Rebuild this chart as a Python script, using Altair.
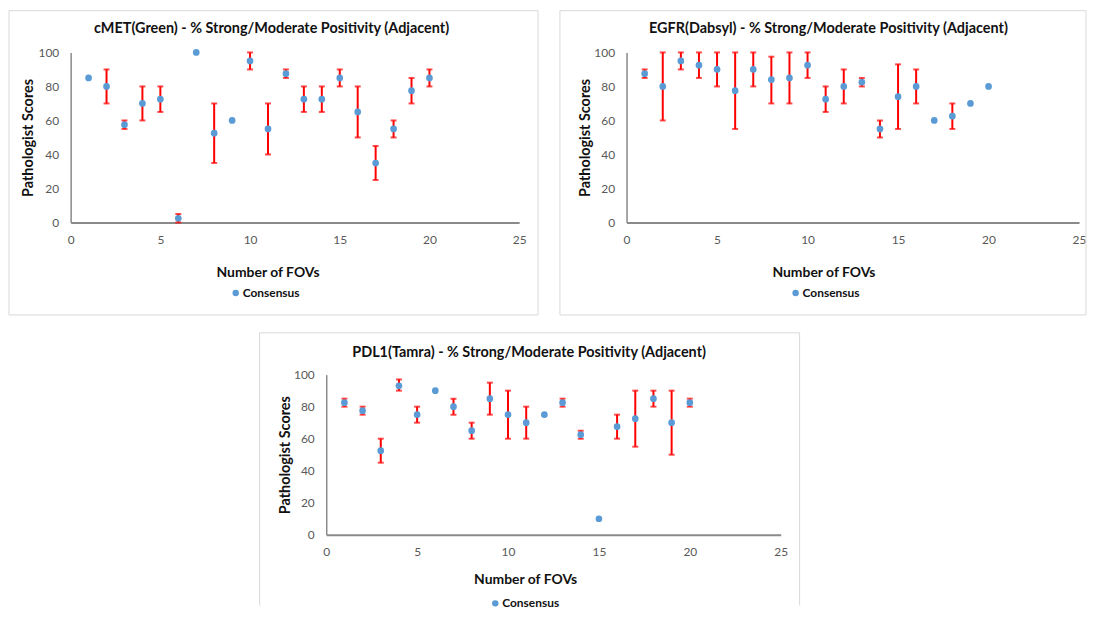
import altair as alt
import pandas as pd

fovs = list(range(1, 21))

cmet_cons = [85, 80, 57.5, 70, 72.5, 2.5, 100, 52.5, 60, 95, 55, 87.5, 72.5, 72.5, 85, 65, 35, 55, 77.5, 85]
cmet_low = [None, 70, 55, 60, 65, 0, None, 35, None, 90, 40, 85, 65, 65, 80, 50, 25, 50, 70, 80]
cmet_high = [None, 90, 60, 80, 80, 5, None, 70, None, 100, 70, 90, 80, 80, 90, 80, 45, 60, 85, 90]

egfr_cons = [87.5, 80, 95, 92.5, 90, 77.5, 90, 84, 85, 92.5, 72.5, 80, 82.5, 55, 74, 80, 60, 62.5, 70, 80]
egfr_low = [85, 60, 90, 85, 80, 55, 80, 70, 70, 85, 65, 70, 80, 50, 55, 70, None, 55, None, None]
egfr_high = [90, 100, 100, 100, 100, 100, 100, 97.5, 100, 100, 80, 90, 85, 60, 93, 90, None, 70, None, None]

pdl1_cons = [82.5, 77.5, 52.5, 93, 75, 90, 80, 65, 85, 75, 70, 75, 82.5, 62.5, 10, 67.5, 72.5, 85, 70, 82.5]
pdl1_low = [80, 75, 45, 90, 70, None, 75, 60, 75, 60, 60, None, 80, 60, None, 60, 55, 80, 50, 80]
pdl1_high = [85, 80, 60, 97, 80, None, 85, 70, 95, 90, 80, None, 85, 65, None, 75, 90, 90, 90, 85]

titles = [
    "cMET(Green) - % Strong/Moderate Positivity (Adjacent)",
    "EGFR(Dabsyl) - % Strong/Moderate Positivity (Adjacent)",
    "PDL1(Tamra) - % Strong/Moderate Positivity (Adjacent)",
]
x_ticks = [0, 5, 10, 15, 20, 25]
y_ticks = [0, 20, 40, 60, 80, 100]
x_title = "Number of FOVs"
y_title = "Pathologist Scores"
series_name = "Consensus"

FONT = "Lato"
BLUE = "#5B9BD5"
RED = "#FF0000"
FRAME = "#D9D9D9"


def panel(title, cons, low, high, W, H, g):
    pts = pd.DataFrame({"fov": fovs, "score": cons, "series": series_name})
    err = pd.DataFrame({"fov": fovs, "low": low, "high": high}).dropna()
    one = pd.DataFrame({"t": [title]})

    xs = alt.Scale(domain=[0, 25], nice=False)
    ys = alt.Scale(domain=[0, 100], nice=False)
    xaxis = alt.Axis(values=x_ticks, title=x_title, grid=False, ticks=False, tickSize=0,
                     labelFlush=False,
                     labelPadding=12, labelFont=FONT, labelFontSize=12, labelColor="#595959",
                     domainColor="#8a8a8a", domainWidth=2,
                     titleFont=FONT, titleFontSize=14, titleFontWeight="bold", titleColor="#111",
                     titleX=g["xtx"], titleY=g["xty"], titleAlign="center",
                     titleBaseline="middle", titleAngle=0)
    yaxis = alt.Axis(values=y_ticks, title=y_title, grid=False, ticks=False, tickSize=0,
                     labelFlush=False,
                     labelPadding=12, labelFont=FONT, labelFontSize=12, labelColor="#595959",
                     domainColor="#8a8a8a", domainWidth=1.5,
                     titleFont=FONT, titleFontSize=14.5, titleFontWeight="bold", titleColor="#111",
                     titleX=g["ytx"], titleY=H / 2, titleAlign="center",
                     titleBaseline="middle", titleAngle=270)

    base_frame = alt.Chart(one)
    if g["closed"]:
        frame = base_frame.mark_rect(fillOpacity=0, stroke=FRAME, strokeWidth=1).encode(
            x=alt.value(g["fl"]), x2=alt.value(g["fr"]),
            y=alt.value(g["ft"]), y2=alt.value(g["fb"]))
        frames = [frame]
    else:
        left = base_frame.mark_rule(stroke=FRAME, strokeWidth=1).encode(
            x=alt.value(g["fl"]), y=alt.value(g["ft"]), y2=alt.value(g["fb"]))
        right = base_frame.mark_rule(stroke=FRAME, strokeWidth=1).encode(
            x=alt.value(g["fr"]), y=alt.value(g["ft"]), y2=alt.value(g["fb"]))
        top = base_frame.mark_rule(stroke=FRAME, strokeWidth=1).encode(
            x=alt.value(g["fl"]), x2=alt.value(g["fr"]), y=alt.value(g["ft"]))
        frames = [left, right, top]

    ttl = alt.Chart(one).mark_text(font=FONT, fontSize=14.5, fontWeight="bold", color="#111",
                                   align="center", baseline="middle").encode(
        x=alt.value(g["tx"]), y=alt.value(g["ty"]), text="t:N")

    bars = alt.Chart(err).mark_rule(color=RED, strokeWidth=2).encode(
        x=alt.X("fov:Q", scale=xs, axis=xaxis),
        y=alt.Y("low:Q", scale=ys, axis=yaxis),
        y2="high:Q")
    cap_lo = alt.Chart(err).mark_tick(color=RED, orient="horizontal", size=6, thickness=2).encode(
        x=alt.X("fov:Q", scale=xs, axis=xaxis),
        y=alt.Y("low:Q", scale=ys, axis=yaxis))
    cap_hi = alt.Chart(err).mark_tick(color=RED, orient="horizontal", size=6, thickness=2).encode(
        x=alt.X("fov:Q", scale=xs, axis=xaxis),
        y=alt.Y("high:Q", scale=ys, axis=yaxis))
    dots = alt.Chart(pts).mark_point(filled=True, opacity=1, size=45).encode(
        x=alt.X("fov:Q", scale=xs, axis=xaxis),
        y=alt.Y("score:Q", scale=ys, axis=yaxis),
        color=alt.Color("series:N", scale=alt.Scale(domain=[series_name], range=[BLUE]),
                        legend=alt.Legend(orient="none", legendX=g["lx"], legendY=g["ly"],
                                          title=None, padding=0, symbolType="circle",
                                          symbolSize=42, labelFont=FONT, labelFontSize=12,
                                          labelFontWeight="bold", labelColor="#111",
                                          labelOffset=1)))
    return alt.layer(*frames, ttl, bars, cap_lo, cap_hi, dots).properties(width=W, height=H)


p1 = panel(titles[0], cmet_cons, cmet_low, cmet_high, 451, 171,
           dict(closed=True, fl=-62, fr=470, ft=-42, fb=264, tx=202, ty=-24,
                xtx=198, xty=50, ytx=-42, lx=160, ly=236))
p2 = panel(titles[1], egfr_cons, egfr_low, egfr_high, 455, 171,
           dict(closed=True, fl=-67, fr=462, ft=-42, fb=264, tx=203, ty=-24,
                xtx=198, xty=50, ytx=-41, lx=164, ly=236))
p3 = panel(titles[2], pdl1_cons, pdl1_low, pdl1_high, 457, 161,
           dict(closed=False, fl=-67, fr=476, ft=-42, fb=232, tx=204, ty=-22,
                xtx=200, xty=45, ytx=-41, lx=164, ly=224))

spacer = alt.Chart(pd.DataFrame({"a": [0]})).mark_point(opacity=0).encode(
    x=alt.value(0), y=alt.value(0)).properties(width=237, height=1)

row1 = alt.hconcat(p1, p2, spacing=108, bounds="flush").resolve_scale(
    color="independent").resolve_legend(color="independent")
row2 = alt.hconcat(spacer, p3, spacing=20, bounds="flush").resolve_scale(
    color="independent").resolve_legend(color="independent")

chart = alt.vconcat(row1, row2, spacing=324, bounds="flush").resolve_scale(
    color="independent").resolve_legend(color="independent").properties(
    padding={"left": 0, "top": 0, "right": 0, "bottom": 0}, background="white"
).configure_view(stroke="transparent")

chart.save("out.html", embed_options={"renderer": "svg", "actions": False})
